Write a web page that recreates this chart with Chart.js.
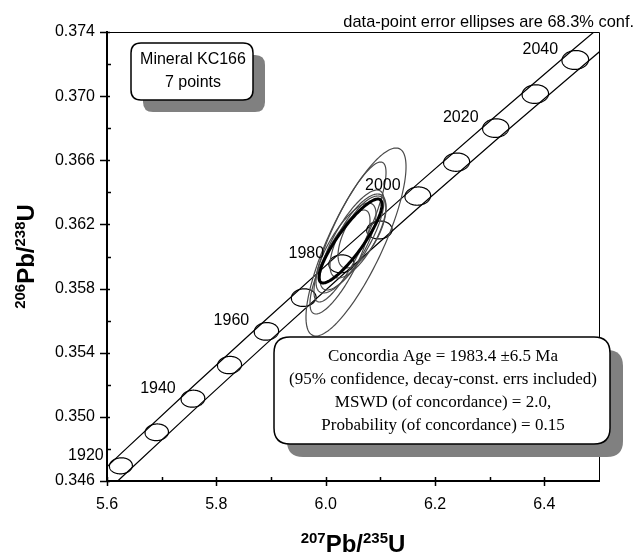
<!DOCTYPE html>
<html><head><meta charset="utf-8">
<script src="https://cdn.jsdelivr.net/npm/chart.js@4.4.0/dist/chart.umd.min.js"></script>
<style>html,body{margin:0;padding:0;background:#fff;}#wrap{width:638px;height:555px;}</style>
</head><body><div id="wrap"><canvas id="c" width="638" height="555"></canvas></div>
<script>
// ---- axis ticks ----
const xTickValues = [5.6, 5.8, 6.0, 6.2, 6.4];
const xMinorTicks = [5.7, 5.9, 6.1, 6.3];
const yTickValues = [0.346, 0.350, 0.354, 0.358, 0.362, 0.366, 0.370, 0.374];
const yMinorTicks = [0.348, 0.352, 0.356, 0.360, 0.364, 0.368, 0.372];

// ---- concordia age markers (Ma) ----
const markerAges = [1920, 1930, 1940, 1950, 1960, 1970, 1980, 1990, 2000, 2010, 2020, 2030, 2040];
const markerX = [5.6254, 5.6910, 5.7572, 5.8241, 5.8916, 5.9598, 6.0287, 6.0983, 6.1685, 6.2395, 6.3111, 6.3835, 6.4566];
const markerY = [0.346946, 0.349037, 0.351132, 0.353230, 0.355330, 0.357435, 0.359543, 0.361653, 0.363767, 0.365883, 0.368005, 0.370128, 0.372255];
const markerRx = [0.0210, 0.0214, 0.0217, 0.0220, 0.0223, 0.0226, 0.0229, 0.0232, 0.0235, 0.0238, 0.0240, 0.0242, 0.0244];
const markerRy = [0.00050, 0.00052, 0.00053, 0.00054, 0.00055, 0.00055, 0.00056, 0.00056, 0.00057, 0.00057, 0.00058, 0.00058, 0.00059];
const markerRho = [0.05, 0.05, 0.05, 0.05, 0.05, 0.05, 0.05, 0.05, 0.05, 0.05, 0.05, 0.05, 0.05];
const labelAges = [1920, 1940, 1960, 1980, 2000, 2020, 2040];

// ---- concordia band (decay-constant error envelope) ----
const bandX = [5.55, 5.6254, 5.7572, 5.8916, 6.0287, 6.1685, 6.3111, 6.4566, 6.55];
const bandUpperY = [0.345278, 0.347706, 0.351892, 0.356090, 0.360303, 0.364527, 0.368765, 0.373015, 0.375705];
const bandLowerY = [0.343758, 0.346186, 0.350372, 0.354570, 0.358783, 0.363007, 0.367245, 0.371495, 0.374185];

// ---- data-point error ellipses (68.3% conf.) ----
const pointX   = [6.0555, 6.0482, 6.0591, 6.0372, 6.0665, 6.0262, 6.0445];
const pointY   = [0.360904, 0.361029, 0.361279, 0.360530, 0.361528, 0.359657, 0.361528];
const pointSx  = [0.0915, 0.0585, 0.0512, 0.0549, 0.0439, 0.0549, 0.0659];
const pointSy  = [0.005862, 0.003118, 0.002619, 0.002806, 0.002245, 0.003243, 0.004365];
const pointRho = [0.80, 0.78, 0.70, 0.75, 0.65, 0.80, 0.85];

// ---- concordia age ellipse ----
const concX = [6.0454];
const concY = [0.360967];
const concSx = [0.0576];
const concSy = [0.002619];
const concRho = [0.87];

const SANS = '"Liberation Sans", Arial, sans-serif';
const SERIF = '"Liberation Serif", "Times New Roman", serif';

function ellipsePath(ctx, xs, ys, cx, cy, sx, sy, rho) {
  const n = 160, r2 = Math.sqrt(1 - rho * rho);
  ctx.beginPath();
  for (let k = 0; k <= n; k++) {
    const t = k / n * 2 * Math.PI;
    const vx = cx + sx * Math.cos(t);
    const vy = cy + sy * (rho * Math.cos(t) + r2 * Math.sin(t));
    const X = xs.getPixelForValue(vx), Y = ys.getPixelForValue(vy);
    if (k === 0) ctx.moveTo(X, Y); else ctx.lineTo(X, Y);
  }
  ctx.closePath();
}

function roundRect(ctx, x, y, w, h, r) {
  ctx.beginPath();
  ctx.moveTo(x + r, y);
  ctx.lineTo(x + w - r, y); ctx.quadraticCurveTo(x + w, y, x + w, y + r);
  ctx.lineTo(x + w, y + h - r); ctx.quadraticCurveTo(x + w, y + h, x + w - r, y + h);
  ctx.lineTo(x + r, y + h); ctx.quadraticCurveTo(x, y + h, x, y + h - r);
  ctx.lineTo(x, y + r); ctx.quadraticCurveTo(x, y, x + r, y);
  ctx.closePath();
}

function shadowBox(ctx, x, y, w, h, r, off) {
  ctx.fillStyle = '#808080';
  roundRect(ctx, x + off, y + off, w, h, r); ctx.fill();
  ctx.fillStyle = '#fff';
  roundRect(ctx, x, y, w, h, r); ctx.fill();
  ctx.strokeStyle = '#000'; ctx.lineWidth = 1.5;
  roundRect(ctx, x, y, w, h, r); ctx.stroke();
}

function supTitle(ctx, parts, bigPx, supPx, rise) {
  let total = 0;
  const w = parts.map(p => {
    ctx.font = 'bold ' + (p.sup ? supPx : bigPx) + 'px ' + SANS;
    const m = ctx.measureText(p.t).width; total += m; return m;
  });
  let x = -total / 2;
  ctx.textAlign = 'left'; ctx.textBaseline = 'alphabetic'; ctx.fillStyle = '#000';
  parts.forEach((p, i) => {
    ctx.font = 'bold ' + (p.sup ? supPx : bigPx) + 'px ' + SANS;
    ctx.fillText(p.t, x, p.sup ? -rise : 0);
    x += w[i];
  });
}

const drawPlugin = {
  id: 'concordia',
  afterDatasetsDraw(chart) {
    const { ctx, chartArea: a, scales: { x: xs, y: ys } } = chart;
    ctx.save();
    ctx.beginPath(); ctx.rect(a.left, a.top, a.right - a.left, a.bottom - a.top); ctx.clip();
    // age markers
    ctx.strokeStyle = '#000'; ctx.lineWidth = 1.2;
    markerX.forEach((mx, i) => {
      ellipsePath(ctx, xs, ys, mx, markerY[i], markerRx[i], markerRy[i], markerRho[i]);
      ctx.stroke();
    });
    // data ellipses
    ctx.strokeStyle = '#4a4a4a'; ctx.lineWidth = 1.2;
    pointX.forEach((px, i) => {
      ellipsePath(ctx, xs, ys, px, pointY[i], pointSx[i], pointSy[i], pointRho[i]);
      ctx.stroke();
    });
    // concordia age ellipse
    ctx.strokeStyle = '#000'; ctx.lineWidth = 3;
    concX.forEach((cx, i) => {
      ellipsePath(ctx, xs, ys, cx, concY[i], concSx[i], concSy[i], concRho[i]);
      ctx.stroke();
    });
    ctx.restore();

    ctx.save();
    // top & right frame
    ctx.strokeStyle = '#000'; ctx.lineWidth = 1;
    ctx.beginPath();
    ctx.moveTo(a.left, a.top + 0.5); ctx.lineTo(a.right + 0.5, a.top + 0.5); ctx.lineTo(a.right + 0.5, a.bottom);
    ctx.stroke();
    // tick marks
    ctx.lineWidth = 1.5;
    ctx.beginPath();
    yTickValues.forEach(v => { const Y = Math.round(ys.getPixelForValue(v)) + 0.5; ctx.moveTo(a.left - 7, Y); ctx.lineTo(a.left + 3, Y); });
    yMinorTicks.forEach(v => { const Y = Math.round(ys.getPixelForValue(v)) + 0.5; ctx.moveTo(a.left, Y); ctx.lineTo(a.left + 4, Y); });
    xTickValues.forEach(v => { const X = Math.round(xs.getPixelForValue(v)) + 0.5; ctx.moveTo(X, a.bottom - 4); ctx.lineTo(X, a.bottom + 5); });
    xMinorTicks.forEach(v => { const X = Math.round(xs.getPixelForValue(v)) + 0.5; ctx.moveTo(X, a.bottom - 4); ctx.lineTo(X, a.bottom + 1); });
    ctx.stroke();
    // age labels
    ctx.fillStyle = '#000'; ctx.font = '16px ' + SANS; ctx.textAlign = 'center'; ctx.textBaseline = 'alphabetic';
    labelAges.forEach(age => {
      const i = markerAges.indexOf(age);
      const X = xs.getPixelForValue(markerX[i]), Y = ys.getPixelForValue(markerY[i]);
      ctx.fillText(String(age), X - 35, Y - 6);
    });
    ctx.restore();
  },
  afterDraw(chart) {
    const { ctx, chartArea: a } = chart;
    ctx.save();
    // annotation
    ctx.fillStyle = '#000'; ctx.font = '16.4px ' + SANS; ctx.textAlign = 'right'; ctx.textBaseline = 'alphabetic';
    ctx.fillText('data-point error ellipses are 68.3% conf.', 634, 27);
    // mineral box
    shadowBox(ctx, 131, 43, 122, 57, 10, 12);
    ctx.fillStyle = '#000'; ctx.font = '16px ' + SANS; ctx.textAlign = 'center';
    ctx.fillText('Mineral KC166', 193, 64);
    ctx.fillText('7 points', 193, 87);
    // result box
    shadowBox(ctx, 274, 337, 336, 107, 16, 13);
    ctx.fillStyle = '#000'; ctx.font = '17px ' + SERIF; ctx.textAlign = 'center';
    const cxBox = 443;
    ctx.fillText('Concordia Age = 1983.4 \u00B16.5 Ma', cxBox, 361);
    ctx.fillText('(95% confidence, decay-const. errs included)', cxBox, 384);
    ctx.fillText('MSWD (of concordance) = 2.0,', cxBox, 407);
    ctx.fillText('Probability (of concordance) = 0.15', cxBox, 430);
    // x title
    ctx.save();
    ctx.translate((a.left + a.right) / 2, 552);
    supTitle(ctx, [{ t: '207', sup: true }, { t: 'Pb/', sup: false }, { t: '235', sup: true }, { t: 'U', sup: false }], 24, 15, 9);
    ctx.restore();
    // y title
    ctx.save();
    ctx.translate(34, (a.top + a.bottom) / 2);
    ctx.rotate(-Math.PI / 2);
    supTitle(ctx, [{ t: '206', sup: true }, { t: 'Pb/', sup: false }, { t: '238', sup: true }, { t: 'U', sup: false }], 24, 15, 9);
    ctx.restore();
    ctx.restore();
  }
};

const ctx = document.getElementById('c').getContext('2d');
new Chart(ctx, {
  type: 'scatter',
  data: {
    datasets: [
      { label: 'upper', data: bandX.map((v, i) => ({ x: v, y: bandUpperY[i] })), showLine: true, borderColor: '#000', borderWidth: 1.2, pointRadius: 0, tension: 0, fill: false },
      { label: 'lower', data: bandX.map((v, i) => ({ x: v, y: bandLowerY[i] })), showLine: true, borderColor: '#000', borderWidth: 1.2, pointRadius: 0, tension: 0, fill: false }
    ]
  },
  options: {
    responsive: false, animation: false, devicePixelRatio: 1,
    layout: { padding: { left: 0, right: 39, top: 32, bottom: 0 } },
    plugins: { legend: { display: false }, tooltip: { enabled: false }, title: { display: false } },
    scales: {
      x: {
        type: 'linear', min: 5.6, max: 6.5,
        afterBuildTicks: s => { s.ticks = xTickValues.map(v => ({ value: v })); },
        afterFit: s => { s.height = 74; },
        ticks: { callback: v => Number(v).toFixed(1), font: { family: SANS, size: 16 }, color: '#000', padding: 14, maxRotation: 0, autoSkip: false },
        grid: { display: false, drawTicks: false },
        border: { display: true, color: '#000', width: 2 }
      },
      y: {
        type: 'linear', min: 0.346, max: 0.374,
        afterBuildTicks: s => { s.ticks = yTickValues.map(v => ({ value: v })); },
        afterFit: s => { s.width = 107; },
        ticks: { callback: v => Number(v).toFixed(3), font: { family: SANS, size: 16 }, color: '#000', padding: 12, autoSkip: false },
        grid: { display: false, drawTicks: false },
        border: { display: true, color: '#000', width: 2 }
      }
    }
  },
  plugins: [drawPlugin]
});
</script>
</body></html>
